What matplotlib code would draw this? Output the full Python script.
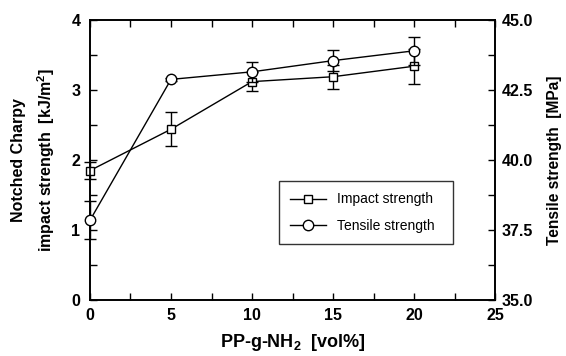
import matplotlib
matplotlib.use("Agg")
import matplotlib.pyplot as plt
from matplotlib.ticker import MultipleLocator
from matplotlib.lines import Line2D

plt.rcParams['font.family'] = ['Liberation Sans', 'DejaVu Sans']
plt.rcParams['mathtext.fontset'] = 'custom'
plt.rcParams['mathtext.rm'] = 'Liberation Sans:bold'
plt.rcParams['mathtext.bf'] = 'Liberation Sans:bold'

content = [0, 5, 10, 15, 20]
impact = [1.85, 2.44, 3.12, 3.19, 3.34]
impact_err = [0.12, 0.24, 0.14, 0.17, 0.25]
tensile = [37.85, 42.88, 43.15, 43.55, 43.9]
tensile_err = [0.68, 0.05, 0.36, 0.38, 0.5]

fig = plt.figure(figsize=(5.66, 3.56), dpi=100)
ax = fig.add_axes([0.159, 0.157, 0.7156, 0.7868])
ax2 = ax.twinx()

for art in [ax.errorbar(content, impact, yerr=impact_err, color='black', lw=1.0,
            marker='s', ms=6, mfc='white', mec='black', mew=1.0,
            capsize=4, elinewidth=1.0, capthick=1.0, zorder=3),
            ax2.errorbar(content, tensile, yerr=tensile_err, color='black', lw=1.0,
             marker='o', ms=7.5, mfc='white', mec='black', mew=1.0,
             capsize=4, elinewidth=1.0, capthick=1.0, zorder=3)]:
    for child in art.get_children():
        child.set_clip_on(False)

ax.set_xlim(0, 25)
ax.set_ylim(0, 4)
ax2.set_ylim(35, 45)
ax.xaxis.set_major_locator(MultipleLocator(5))
ax.xaxis.set_minor_locator(MultipleLocator(2.5))
ax.yaxis.set_major_locator(MultipleLocator(1))
ax.yaxis.set_minor_locator(MultipleLocator(0.5))
ax2.yaxis.set_major_locator(MultipleLocator(2.5))
ax2.yaxis.set_minor_locator(MultipleLocator(1.25))
ax2.set_yticklabels([f"{v:.1f}" for v in ax2.get_yticks()])

ax.tick_params(axis='both', which='both', direction='in', top=True, right=False,
               labelsize=11.5, width=1.0, length=5)
ax.tick_params(axis='y', pad=7)
ax.tick_params(axis='x', pad=6)
ax2.tick_params(axis='y', which='both', direction='in', labelsize=11.5, width=1.0,
                length=5, pad=5)
for a in (ax, ax2):
    for s in a.spines.values():
        s.set_linewidth(1.2)
    for lab in a.get_xticklabels() + a.get_yticklabels():
        lab.set_fontweight('bold')

ax.set_xlabel(r"PP-g-NH$_2$  [vol%]", fontsize=13, fontweight='bold', labelpad=6)
ax.set_ylabel("Notched Charpy\nimpact strength  [kJ/m$^2$]", fontsize=11.5,
              fontweight='bold', labelpad=10, linespacing=1.55)
ax2.set_ylabel("Tensile strength  [MPa]", fontsize=11.2, fontweight='bold', labelpad=10)

handles = [Line2D([], [], color='black', lw=1.0, marker='s', ms=6, mfc='white', mec='black'),
           Line2D([], [], color='black', lw=1.0, marker='o', ms=7.5, mfc='white', mec='black')]
leg = ax.legend(handles, ["Impact strength", "Tensile strength"],
                loc='lower left', bbox_to_anchor=(0.467, 0.2, 0.429, 0.221),
                mode='expand', fontsize=10, frameon=True, fancybox=False,
                edgecolor='black', handlelength=2.6, borderpad=0.8, labelspacing=0.9,
                borderaxespad=0)
leg.get_frame().set_linewidth(1.0)

fig.savefig("out.png", dpi=100)
